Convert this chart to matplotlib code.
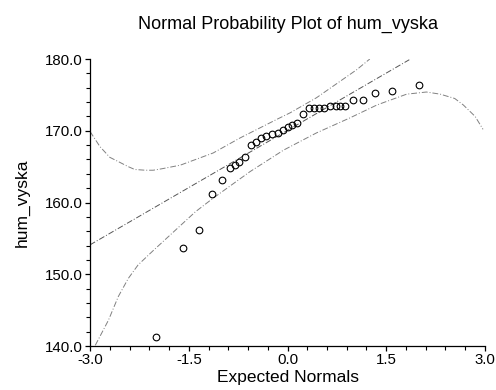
import matplotlib
matplotlib.use('Agg')
import matplotlib.pyplot as plt
from matplotlib.ticker import MultipleLocator, FormatStrFormatter

plt.rcParams['font.family'] = ['Liberation Sans', 'DejaVu Sans']

# observed values (sorted) vs expected normal scores
expected = [-2.0, -1.58, -1.34, -1.15, -1.0, -0.874, -0.80, -0.73, -0.645,
            -0.56, -0.48, -0.40, -0.32, -0.23, -0.15, -0.07, 0.0,
            0.07, 0.15, 0.23, 0.32, 0.40, 0.48, 0.56, 0.645,
            0.73, 0.80, 0.874, 1.0, 1.15, 1.335, 1.58, 2.0]
observed = [141.3, 153.6, 156.1, 161.2, 163.2, 164.8, 165.2, 165.6, 166.4,
            168.0, 168.4, 169.0, 169.3, 169.6, 169.7, 170.1, 170.5,
            170.8, 171.1, 172.4, 173.2, 173.2, 173.2, 173.2, 173.4,
            173.5, 173.5, 173.5, 174.3, 174.3, 175.2, 175.6, 176.4]

# fitted line
fit_x = [-3.0, 1.85]
fit_y = [154.1, 179.9]

# confidence bands
upper_x = [-3.0, -2.85, -2.70, -2.57, -2.42, -2.32, -2.16, -2.04, -1.91,
           -1.63, -1.13, -0.72, -0.16, 0.04, 0.44, 1.05, 1.25]
upper_y = [169.9, 167.8, 166.3, 165.7, 165.0, 164.6, 164.5, 164.5, 164.7,
           165.2, 166.9, 169.0, 171.6, 172.5, 174.6, 178.5, 180.0]
lower_x = [-2.92, -2.72, -2.57, -2.42, -2.27, -2.04, -1.40, -1.13, -0.57,
           -0.06, 0.44, 0.95, 1.36, 1.81, 2.11, 2.32, 2.54, 2.67, 2.85, 2.97]
lower_y = [140.1, 143.6, 146.9, 149.4, 151.3, 153.3, 158.7, 160.6, 164.3,
           167.3, 169.7, 171.8, 173.6, 175.1, 175.4, 175.1, 174.5, 173.6, 172.0, 170.2]

fig = plt.figure(figsize=(4.96, 3.90), dpi=100)
ax = fig.add_axes([0.1815, 0.1128, 0.7963, 0.7359])

dash = (0, (6, 2, 1, 2))
ax.plot(fit_x, fit_y, color='#555555', lw=0.7, linestyle=dash)
ax.plot(upper_x, upper_y, color='#808080', lw=0.7, linestyle=dash)
ax.plot(lower_x, lower_y, color='#808080', lw=0.7, linestyle=dash)
ax.plot(expected, observed, linestyle='none', marker='o', ms=4.8,
        mfc='none', mec='black', mew=0.8)

ax.set_xlim(-3.0, 3.0)
ax.set_ylim(140.0, 180.0)
ax.xaxis.set_major_locator(MultipleLocator(1.5))
ax.xaxis.set_minor_locator(MultipleLocator(0.3))
ax.yaxis.set_major_locator(MultipleLocator(10))
ax.yaxis.set_minor_locator(MultipleLocator(2))
ax.xaxis.set_major_formatter(FormatStrFormatter('%.1f'))
ax.yaxis.set_major_formatter(FormatStrFormatter('%.1f'))

for s in ['top', 'right']:
    ax.spines[s].set_visible(False)
for s in ['left', 'bottom']:
    ax.spines[s].set_linewidth(0.9)

ax.tick_params(which='major', direction='out', length=3.5, width=0.9,
               labelsize=10.8, pad=1.5)
ax.tick_params(which='minor', direction='out', length=3.0, width=0.8)

ax.set_title('Normal Probability Plot of hum_vyska', fontsize=13, pad=22)
ax.set_xlabel('Expected Normals', fontsize=12.5, labelpad=2)
ax.set_ylabel('hum_vyska', fontsize=12.5, labelpad=11)

fig.savefig('out.png', dpi=100)
